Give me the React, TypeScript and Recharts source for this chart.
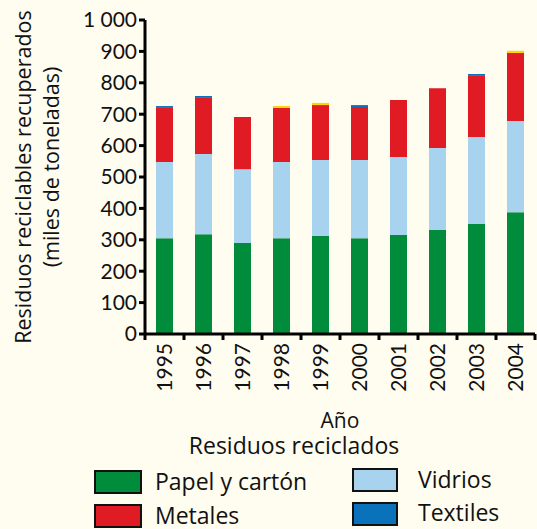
import React from "react";
import { BarChart, Bar, XAxis, YAxis, Legend, Label } from "recharts";

// Recovered recyclable waste by year (thousands of tonnes), stacked by material
const years = ["1995", "1996", "1997", "1998", "1999", "2000", "2001", "2002", "2003", "2004"];
const papel = [305, 318, 290, 305, 312, 305, 315, 331, 350, 388];
const vidrios = [243, 255, 235, 243, 242, 249, 249, 261, 277, 290];
const metales = [172, 179, 166, 172, 175, 169, 181, 191, 195, 217];
const textiles = [6, 6, 0, 0, 0, 6, 0, 0, 6, 0];
const otros = [0, 0, 0, 6, 7, 0, 0, 0, 0, 7];
const yTicks = [0, 100, 200, 300, 400, 500, 600, 700, 800, 900, 1000];

const legendItems = [
  { name: "Papel y cartón", color: "#008C3A", col: 0, row: 0 },
  { name: "Vidrios", color: "#A8D3EE", col: 1, row: 0 },
  { name: "Metales", color: "#E11B24", col: 0, row: 1 },
  { name: "Textiles", color: "#0A72BA", col: 1, row: 1 },
];

const data = years.map((y, i) => ({
  year: y,
  papel: papel[i],
  vidrios: vidrios[i],
  metales: metales[i],
  textiles: textiles[i],
  otros: otros[i],
}));

const FONT = "'Open Sans', Lato, sans-serif";
const NUM_FONT = "Lato, 'Open Sans', sans-serif";
const BG = "#FFFCF0";
const INK = "#111";

const YearTick = (props: any) => {
  const { x, y, payload, index } = props;
  const half = payload && payload.offset ? payload.offset : 19.5;
  const axisY = y - 9;
  return (
    <g>
      <line x1={x - half} x2={x - half} y1={axisY} y2={axisY + 6} stroke="#000" strokeWidth={3} />
      {index === years.length - 1 && (
        <line x1={x + half} x2={x + half} y1={axisY} y2={axisY + 6} stroke="#000" strokeWidth={3} />
      )}
      <text
        x={x}
        y={y}
        transform={`rotate(-90 ${x} ${y})`}
        textAnchor="end"
        dy="0.36em"
        fontSize={21}
        fontFamily={NUM_FONT}
        fill={INK}
      >
        {payload.value}
      </text>
    </g>
  );
};

const LegendBlock = () => {
  const top = 400;
  const colX = [95, 353];
  const boxY = [[471, 469], [505, 503]];
  const textX = [155, 418];
  const textY = [[490, 488], [524, 521]];
  return (
    <svg width={537} height={129} style={{ display: "block", overflow: "visible" }}>
      <text x={294} y={454 - top} textAnchor="middle" fontSize={23} fontFamily={FONT} fill={INK}>
        Residuos reciclados
      </text>
      {legendItems.map((it) => (
        <g key={it.name}>
          <rect
            x={colX[it.col]}
            y={boxY[it.row][it.col] - top}
            width={it.col === 0 ? 46 : 44}
            height={22}
            fill={it.color}
            stroke="#111"
            strokeWidth={2}
          />
          <text
            x={textX[it.col]}
            y={textY[it.row][it.col] - top}
            fontSize={23}
            fontFamily={FONT}
            fill={INK}
          >
            {it.name}
          </text>
        </g>
      ))}
    </svg>
  );
};

const YTitle = (props: any) => {
  const vb = props.viewBox || {};
  const cy = (vb.y || 20) + (vb.height || 314) / 2;
  return (
    <g fontFamily={FONT} fontSize={21.5} fill={INK}>
      <text x={23} y={cy} transform={`rotate(-90 23 ${cy})`} textAnchor="middle" dy="0.36em">
        Residuos reciclables recuperados
      </text>
      <text x={51} y={cy - 10} transform={`rotate(-90 51 ${cy - 10})`} textAnchor="middle" dy="0.36em">
        (miles de toneladas)
      </text>
    </g>
  );
};

const XTitle = (props: any) => {
  const vb = props.viewBox || {};
  const cx = (vb.x || 145) + (vb.width || 390) / 2;
  const y = (vb.y || 334) + 94;
  return (
    <text x={cx} y={y} textAnchor="middle" fontFamily={FONT} fontSize={21} fill={INK}>
      Año
    </text>
  );
};

export default function App() {
  return (
    <div style={{ position: "absolute", left: 0, top: 0, width: 537, height: 529, background: BG }}>
      <BarChart
        width={537}
        height={529}
        data={data}
        margin={{ top: 20, right: 2, bottom: 125, left: 0 }}
        barSize={17}
      >
        <XAxis
          dataKey="year"
          height={70}
          tickLine={false}
          tickSize={6}
          tickMargin={3}
          axisLine={{ stroke: "#000", strokeWidth: 3 }}
          tick={<YearTick />}
          interval={0}
        >
          <Label content={<XTitle />} />
        </XAxis>
        <YAxis
          width={145}
          domain={[0, 1000]}
          ticks={yTicks}
          interval={0}
          tickSize={6}
          tickMargin={2}
          axisLine={{ stroke: "#000", strokeWidth: 3 }}
          tickLine={{ stroke: "#000", strokeWidth: 3 }}
          tick={{ fill: INK, fontSize: 21, fontFamily: NUM_FONT }}
          tickFormatter={(v: number) => (v === 1000 ? "1 000" : String(v))}
        >
          <Label content={<YTitle />} />
        </YAxis>
        <Legend
          layout="horizontal"
          verticalAlign="middle"
          align="center"
          wrapperStyle={{ position: "absolute", top: 400, left: 0, width: 537, height: 129 }}
          content={<LegendBlock />}
        />
        <Bar dataKey="papel" name="Papel y cartón" stackId="a" fill="#008C3A" isAnimationActive={false} />
        <Bar dataKey="vidrios" name="Vidrios" stackId="a" fill="#A8D3EE" isAnimationActive={false} />
        <Bar dataKey="metales" name="Metales" stackId="a" fill="#E11B24" isAnimationActive={false} />
        <Bar dataKey="textiles" name="Textiles" stackId="a" fill="#0A72BA" isAnimationActive={false} />
        <Bar dataKey="otros" name="Otros" stackId="a" fill="#FFD200" isAnimationActive={false} />
      </BarChart>
    </div>
  );
}
